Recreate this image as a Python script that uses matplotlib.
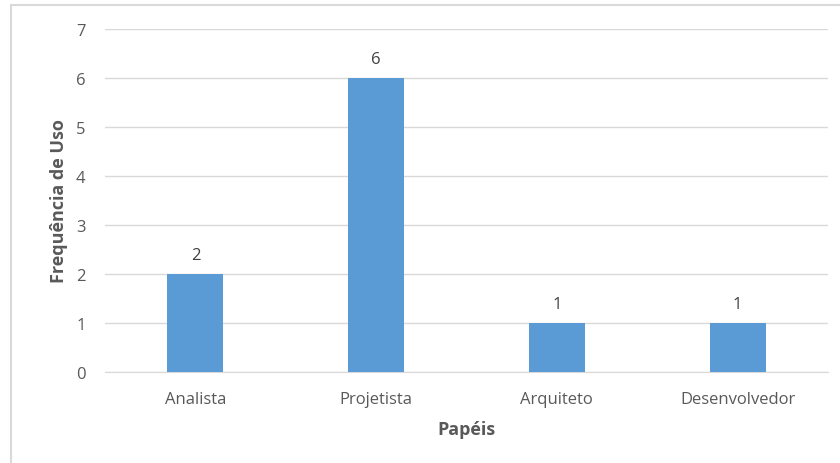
import matplotlib
matplotlib.use("Agg")
import matplotlib.pyplot as plt
from matplotlib.patches import Rectangle

categories = ["Analista", "Projetista", "Arquiteto", "Desenvolvedor"]
values = [2, 6, 1, 1]
yticks = [0, 1, 2, 3, 4, 5, 6, 7]

plt.rcParams['font.family'] = ['Open Sans', 'DejaVu Sans']
W, H = 840, 464
fig = plt.figure(figsize=(W/100, H/100), dpi=100)
ax = fig.add_axes([105/W, 1-373/H, (828-105)/W, (373-30)/H])

x = list(range(len(categories)))
bars = ax.bar(x, values, width=0.31, color="#5b9bd5", zorder=3)
for xi, v in zip(x, values):
    ax.text(xi, v + 0.22, str(v), ha="center", va="bottom", fontsize=12, color="#404040")

ax.set_xlim(-0.5, len(categories) - 0.5)
ax.set_ylim(0, 7)
ax.set_yticks(yticks)
ax.set_xticks(x)
ax.set_xticklabels(categories)
ax.tick_params(axis="both", length=0, labelsize=12, labelcolor="#595959")
ax.tick_params(axis="y", pad=14)
ax.tick_params(axis="x", pad=14)
ax.grid(axis="y", color="#d9d9d9", linewidth=1, zorder=0)
for s in ["top", "right", "left"]:
    ax.spines[s].set_visible(False)
ax.spines["bottom"].set_color("#d9d9d9")
ax.set_xlabel("Papéis", fontsize=13, fontweight="bold", color="#595959", labelpad=9)
ax.set_ylabel("Frequência de Uso", fontsize=13, fontweight="bold", color="#595959", labelpad=6)

fig.patches.append(Rectangle((11/W, -0.05), 1.0, 1 - 6/H + 0.05, transform=fig.transFigure,
                             fill=False, edgecolor="#d9d9d9", linewidth=1.5))

fig.savefig("out.png", dpi=100)
